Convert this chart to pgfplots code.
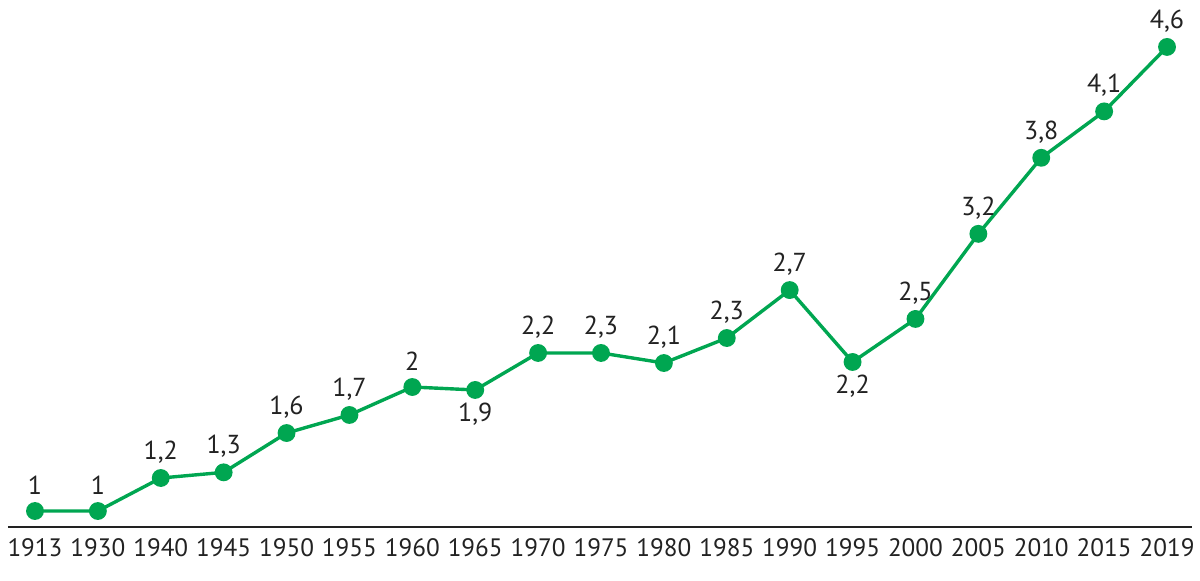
\documentclass[border=0pt]{standalone}
\usepackage{pgfplots}
\usepackage{pgfplotstable}
\usepackage{fontspec}
\setmainfont{PT Sans}
\pgfplotsset{compat=1.18}
\definecolor{lgreen}{HTML}{00A651}
\definecolor{txt}{HTML}{222222}
\pgfplotstableread{
x y lab dy
0 1.000 1 13
1 1.000 1 13
2 1.256 1,2 13
3 1.300 1,3 13
4 1.605 1,6 13
5 1.745 1,7 13
6 1.962 2 13
7 1.939 1,9 -12
8 2.226 2,2 13
9 2.226 2,3 13
10 2.148 2,1 13
11 2.342 2,3 13
12 2.714 2,7 13
13 2.156 2,2 -12
14 2.490 2,5 13
15 3.150 3,2 13
16 3.740 3,8 13
17 4.100 4,1 13
18 4.600 4,6 13
}\datatable
\begin{document}
\begin{tikzpicture}
\begin{axis}[
  at={(4pt,26.5pt)}, anchor=south west,
  scale only axis,
  width=592pt, height=263.5pt,
  xmin=-0.429, xmax=18.397,
  ymin=0.876, ymax=4.964,
  axis y line=none,
  axis x line*=bottom,
  x axis line style={draw=txt, line width=0.8pt, -},
  xtick=data,
  xticklabels={1913,1930,1940,1945,1950,1955,1960,1965,1970,1975,1980,1985,1990,1995,2000,2005,2010,2015,2019},
  xtick style={draw=none},
  xticklabel style={font=\fontsize{12.6}{15}\selectfont, text=txt, yshift=-3.5pt},
  ticklabel style={inner sep=2pt},
  clip=false,
]
\addplot[
  color=lgreen, line width=1.7pt,
  mark=*, mark size=3.6pt, mark options={fill=lgreen, draw=lgreen},
  point meta=explicit symbolic,
  visualization depends on={\thisrow{dy} \as \dy},
  nodes near coords,
  nodes near coords style={anchor=center, yshift=\dy pt, font=\fontsize{13}{15}\selectfont, text=txt},
] table[x=x, y=y, meta=lab] {\datatable};
\end{axis}
\pgfresetboundingbox
\path[use as bounding box] (0,0) rectangle (600pt,290pt);
\end{tikzpicture}
\end{document}
